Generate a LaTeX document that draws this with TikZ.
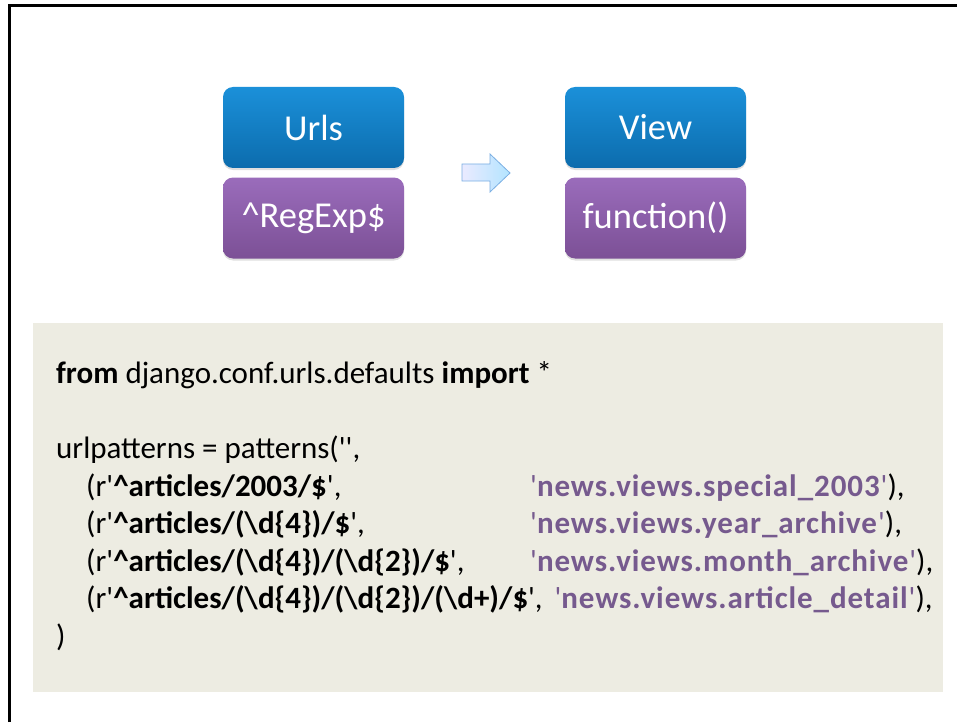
\documentclass[tikz,border=0pt]{standalone}
\usepackage{fontspec}
\setmainfont{Carlito}
\usetikzlibrary{shadows}
\definecolor{panel}{HTML}{EDECE2}
\definecolor{vpurple}{HTML}{765A8E}
\definecolor{bluetop}{HTML}{1B90D9}
\definecolor{bluebot}{HTML}{0C6CAD}
\definecolor{purtop}{HTML}{9A6CBB}
\definecolor{purbot}{HTML}{7C5096}
\definecolor{arrowline}{HTML}{7AAEE2}
\newcommand{\q}{\textquotesingle}
\newcommand{\bs}{\textbackslash}
\newcommand{\vn}[1]{{\color{vpurple}\addfontfeature{LetterSpace=3}\q\textbf{#1}\q}}
\tikzset{
  box/.style={rounded corners=10pt, minimum width=181pt, minimum height=81pt,
    inner sep=0pt, text=white, font=\fontsize{36.5}{40}\selectfont,
    drop shadow={shadow xshift=0pt, shadow yshift=-2pt, opacity=0.25}},
  bluebox/.style={box, top color=bluetop, bottom color=bluebot},
  purplebox/.style={box, top color=purtop, bottom color=purbot},
  code/.style={anchor=base west, inner sep=0pt, font=\fontsize{31}{36}\selectfont}
}
\begin{document}
\begin{tikzpicture}[x=1pt,y=-1pt]
\useasboundingbox (0,0) rectangle (957,722);
\draw[line width=3pt] (9,722) -- (9,6) -- (957,6);

\node[bluebox] (urls) at (313.5,127.5) {\raisebox{-2pt}{Urls}};
\node[purplebox] (regexp) at (313.5,218) {\raisebox{-2pt}{\textasciicircum RegExp\$}};
\node[bluebox] (view) at (655.5,127.5) {\raisebox{-2pt}{View}};
\node[purplebox] (func) at (655.5,218) {\raisebox{-2pt}{function()}};

\shade[left color=blue!8, right color=blue!35!cyan!30, draw=arrowline, line width=0.8pt]
  (462,164) -- (490,164) -- (490,154) -- (510,173) -- (490,192) -- (490,181) -- (462,181) -- cycle;

\fill[panel] (33,323) rectangle (943,692);

\node[code] (l1) at (56,383) {\textbf{from} django.conf.urls.defaults \textbf{import} *};
\node[code] (l2) at (56,458) {urlpatterns = patterns(\q\q,};
\node[code] (l3) at (86,496) {(r\q\textbf{\textasciicircum articles/2003/\$}\q,};
\node[code] (l4) at (86,533) {(r\q\textbf{\textasciicircum articles/(\bs d\{4\})/\$}\q,};
\node[code] (l5) at (86,571) {(r\q\textbf{\textasciicircum articles/(\bs d\{4\})/(\bs d\{2\})/\$}\q,};
\node[code] (l6) at (86,608) {(r\q\textbf{\textasciicircum articles/(\bs d\{4\})/(\bs d\{2\})/(\bs d+)/\$}\q,\hspace{5pt} \vn{news.views.article\_detail}),};
\node[code] (l7) at (56,646) {)};

\node[code] (v3) at (530,496) {\vn{news.views.special\_2003}),};
\node[code] (v4) at (530,533) {\vn{news.views.year\_archive}),};
\node[code] (v5) at (530,571) {\vn{news.views.month\_archive}),};
\end{tikzpicture}
\end{document}
